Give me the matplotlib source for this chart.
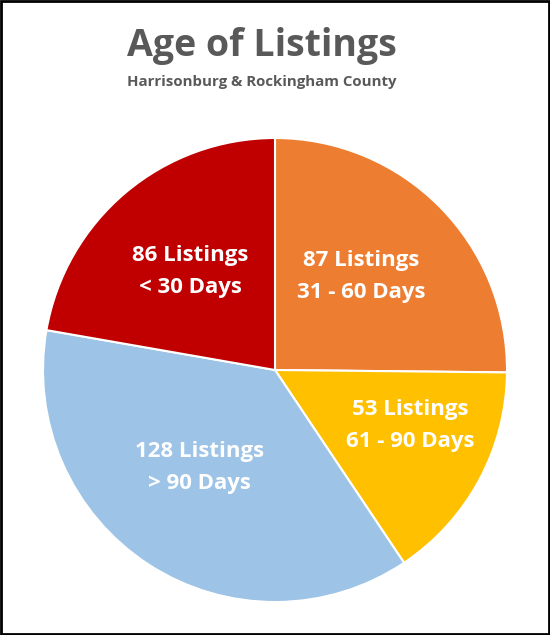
import matplotlib.pyplot as plt
import numpy as np

# label numbers and ranges as printed on the chart
counts = [87, 53, 128, 86]
ranges = ['31 - 60 Days', '61 - 90 Days', '> 90 Days', '< 30 Days']
# slice sizes as drawn (degrees)
slice_deg = [90.6, 55.6, 133.7, 80.1]
colors = ['#ED7D31', '#FFC000', '#9DC3E6', '#C00000']
label_dist = [0.55, 0.63, 0.53, 0.56]
label_turn = [2.6, 6.0, -4.6, 0.5]

plt.rcParams['font.family'] = ['Open Sans', 'DejaVu Sans']

fig = plt.figure(figsize=(5.5, 6.35), dpi=100)
cx, cy, R = 275, 370, 232
ax = fig.add_axes([(cx - R) / 550, 1 - (cy + R) / 635, 2 * R / 550, 2 * R / 635])

wedges, _ = ax.pie(slice_deg, colors=colors, startangle=90, counterclock=False,
                   wedgeprops=dict(edgecolor='white', linewidth=1.5))
ax.set_xlim(-1, 1)
ax.set_ylim(-1, 1)

for w, n, r, d, t in zip(wedges, counts, ranges, label_dist, label_turn):
    ang = np.deg2rad((w.theta1 + w.theta2) / 2 + t)
    ax.text(d * np.cos(ang), d * np.sin(ang), f'{n} Listings\n{r}',
            ha='center', va='center', color='white', fontsize=16,
            fontweight='bold', linespacing=1.68)

fig.text(262 / 550, 1 - 46 / 635, 'Age of Listings', ha='center', va='center',
         fontsize=27, fontweight='bold', color='#595959')
fig.text(262 / 550, 1 - 82 / 635, 'Harrisonburg & Rockingham County', ha='center',
         va='center', fontsize=10.8, fontweight='bold', color='#595959')

# black frame around the picture
fig.patches.append(plt.Rectangle((0.002, 0.002), 0.996, 0.996, transform=fig.transFigure,
                                 fill=False, edgecolor='black', linewidth=2))

fig.savefig('out.png', dpi=100)
